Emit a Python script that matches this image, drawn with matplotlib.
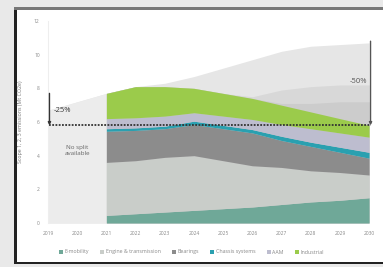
import matplotlib; matplotlib.use('Agg')
import matplotlib.pyplot as plt
from matplotlib.patches import Rectangle
import numpy as np

plt.rcParams.update({'font.family': 'Open Sans', 'font.size': 4})

# data (Mt CO2e)
years_all = [2019, 2020, 2021, 2022, 2023, 2024, 2025, 2026, 2027, 2028, 2029, 2030]
total_bau = [6.7, 7.2, 7.7, 8.1, 8.3, 8.7, 9.2, 9.7, 10.2, 10.5, 10.6, 10.7]
years = [2021, 2022, 2023, 2024, 2025, 2026, 2027, 2028, 2029, 2030]
bau_mid = [7.7, 8.1, 8.1, 8.0, 7.7, 7.5, 7.9, 8.1, 8.2, 8.2]
bau_low = [7.7, 8.1, 8.1, 8.0, 7.7, 7.4, 7.1, 7.1, 7.2, 7.2]
e_mobility = [0.45, 0.55, 0.65, 0.75, 0.85, 0.95, 1.1, 1.25, 1.35, 1.5]
engine = [3.15, 3.15, 3.25, 3.25, 2.85, 2.45, 2.2, 1.85, 1.65, 1.35]
bearings = [1.85, 1.8, 1.7, 1.85, 1.9, 1.95, 1.6, 1.45, 1.2, 1.0]
chassis = [0.15, 0.15, 0.15, 0.2, 0.2, 0.2, 0.25, 0.25, 0.3, 0.35]
aam = [0.6, 0.6, 0.6, 0.5, 0.55, 0.6, 0.7, 0.8, 0.85, 0.9]
industrial = [1.5, 1.85, 1.75, 1.45, 1.35, 1.25, 1.15, 1.0, 0.85, 0.7]
target = 5.8
start_level = 7.7
bau_2030 = 10.8

names = ['E-mobility', 'Engine & transmission', 'Bearings', 'Chassis systems', 'AAM', 'Industrial']
colors = ['#6fa898', '#c9cdc9', '#8c8c8c', '#2aa0b0', '#bdbdcf', '#9bcb4b']
layers = [e_mobility, engine, bearings, chassis, aam, industrial]

fig = plt.figure(figsize=(3.83, 2.67), dpi=100)
fig.patch.set_facecolor('#e9e9e9')
# slide frame
fig.add_artist(Rectangle((14/383, 5/267), 1, 254/267, transform=fig.transFigure,
                         fc='white', ec='none', zorder=0))
fig.add_artist(Rectangle((14/383, 4/267), 2.5/383, 255/267, transform=fig.transFigure,
                         fc='#222222', ec='none', zorder=1))
fig.add_artist(Rectangle((14/383, 3/267), 1, 2.5/267, transform=fig.transFigure,
                         fc='#222222', ec='none', zorder=1))
fig.add_artist(Rectangle((14/383, 257/267), 1, 2.5/267, transform=fig.transFigure,
                         fc='#777777', ec='none', zorder=1))

ax = fig.add_axes([48/383, 44/267, 324/383, 202/267])
ax.set_facecolor('none')

x_all = np.array(years_all)
ax.fill_between(x_all, 0, total_bau, color='#e6e6e6', lw=0, zorder=1)
ax.fill_between(years_all[:3], 0, total_bau[:3], color='#ececec', lw=0, zorder=1)
ax.fill_between(years, 0, bau_mid, color='#d8d8d8', lw=0, zorder=2)
ax.fill_between(years, 0, bau_low, color='#cccccc', lw=0, zorder=2)

base = np.zeros(len(years))
for vals, c in zip(layers, colors):
    top = base + np.array(vals)
    ax.fill_between(years, base, top, color=c, lw=0, zorder=3)
    base = top

ax.text(2020, 4.3, 'No split\navailable', ha='center', va='center', fontsize=4.5,
        color='#666666', linespacing=1.4, zorder=5)

# target line and reduction arrows
ax.plot([2019.05, 2030.05], [target, target], color='#333333', lw=1.3,
        ls=(0, (1, 0.8)), zorder=6)
ax.annotate('', xy=(2019.05, target), xytext=(2019.05, start_level),
            arrowprops=dict(arrowstyle='-|>', color='#333333', lw=1.0,
                            mutation_scale=4, shrinkA=0, shrinkB=0), zorder=7)
ax.annotate('', xy=(2030.05, target), xytext=(2030.05, bau_2030),
            arrowprops=dict(arrowstyle='-|>', color='#555555', lw=1.0,
                            mutation_scale=4, shrinkA=0, shrinkB=0), zorder=7)
ax.text(2019.2, 6.7, '-25%', fontsize=5.5, color='#333333', va='center', zorder=7)
ax.text(2029.95, 8.4, '-50%', fontsize=5.5, color='#555555', va='center', ha='right', zorder=7)

ax.set_xlim(2019, 2030.1)
ax.set_ylim(0, 12)
ax.set_xticks(years_all)
ax.set_yticks(range(0, 13, 2))
ax.tick_params(length=0, labelsize=3.5, colors='#888888', pad=6)
for s in ['top', 'right', 'bottom']:
    ax.spines[s].set_visible(False)
ax.spines['left'].set_color('#eeeeee')
ax.set_ylabel('Scope 1, 2, 3 emissions (Mt CO2e)', fontsize=3.8, color='#777777', labelpad=8)

handles = [Rectangle((0, 0), 1, 1, fc=c) for c in colors]
fig.legend(handles, names, loc='center', bbox_to_anchor=(0.5, 15/267), ncol=6,
           frameon=False, fontsize=3.8, handlelength=0.7, handleheight=0.7,
           columnspacing=2.2, handletextpad=0.3, labelcolor='#888888')

fig.savefig('out.png', dpi=100)
